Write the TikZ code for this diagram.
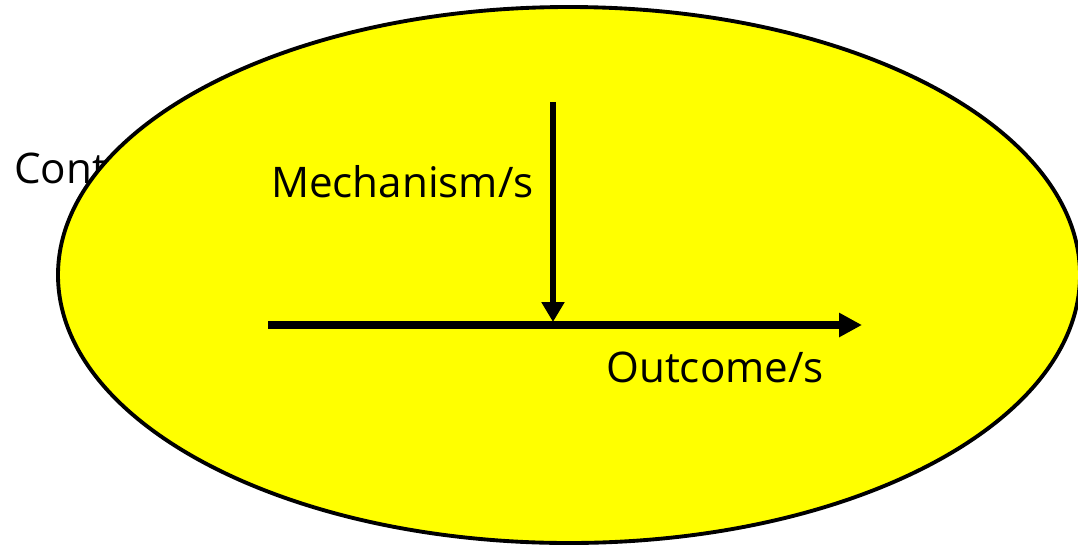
\documentclass[tikz,border=0pt]{standalone}
\usepackage{fontspec}
\setmainfont{Open Sans}
\usetikzlibrary{arrows.meta,positioning}
\definecolor{fieldyellow}{RGB}{255,255,0}

\begin{document}
\begin{tikzpicture}[x=0.02cm, y=-0.02cm,
    field/.style={draw=black, fill=fieldyellow, line width=2.2pt},
    caption/.style={inner sep=0pt, font=\fontsize{24}{29}\selectfont},
    arrow/.style={line width=4.4pt, -{Triangle[length=13pt, width=13pt]}},
    feed/.style={line width=3.6pt, -{Triangle[length=11.3pt, width=12.5pt]}}]

    \clip (0,0) rectangle (1078,545);

    % context label sits behind the ellipse
    \node[caption, anchor=base west] at (14,183) (context) {Context};
    \draw[field] (569,275) ellipse [x radius=511, y radius=268];

    \coordinate (start) at (268,325);
    \coordinate (finish) at (862,325);
    \coordinate (source) at (553,102);
    \coordinate (meet) at (553,322);

    \draw[arrow] (start) -- (finish);
    \draw[feed] (source) -- (meet);

    \node[caption, anchor=base east] at (534,197) (mechanism) {Mechanism/s};
    \node[caption, anchor=base west] at (606,382) (outcome) {Outcome/s};
\end{tikzpicture}
\end{document}
